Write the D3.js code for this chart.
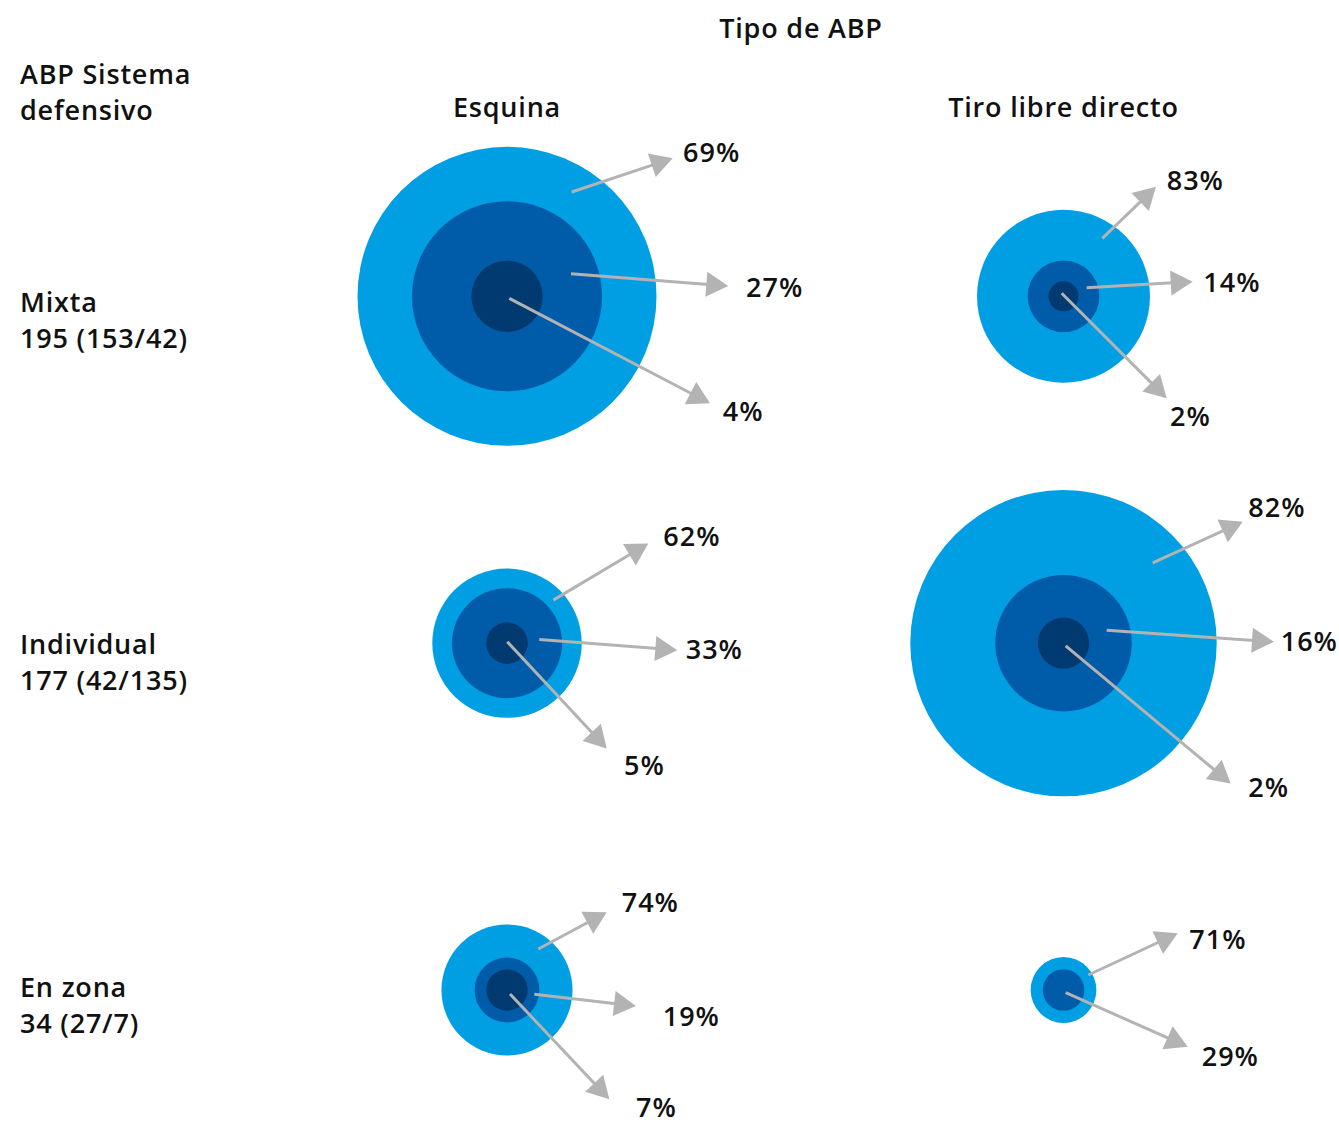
<!DOCTYPE html>
<html>
<head>
<meta charset="utf-8">
<script src="https://cdn.jsdelivr.net/npm/d3@7"></script>
<style>
  html, body { margin: 0; padding: 0; background: #fff; }
  svg text { font-family: "Open Sans", "Noto Sans", sans-serif; font-weight: 600; fill: #111; }
</style>
</head>
<body>
<svg id="chart" width="1339" height="1124"></svg>
<script>
// ---------- data ----------
const title = "Tipo de ABP";
const rowHeader = ["ABP Sistema", "defensivo"];
const rowNames = ["Mixta", "Individual", "En zona"];
const rowCounts = ["195 (153/42)", "177 (42/135)", "34 (27/7)"];
const colNames = ["Esquina", "Tiro libre directo"];

// percentage shares per ring (outer -> inner)
const esquinaShares = [[69, 27, 4], [62, 33, 5], [74, 19, 7]];
const tiroShares = [[83, 14, 2], [82, 16, 2], [71, 29]];

// bubble size values per ring (outer -> inner) (area units)
const esquinaRingSizes = [[153, 61.8, 8.7], [38.2, 20.7, 2.96], [29.4, 7.2, 2.93]];
const tiroRingSizes = [[51.2, 8.8, 1.54], [160.7, 31.9, 4.5], [7.4, 2.96]];

// ---------- layout (annotation offsets relative to bubble centre) ----------
// each: [startDx, startDy, tipDx, tipDy, labelDx, labelDy]
const esquinaArrows = [
  [[64.7, -104.3, 165.7, -138, 176, -134.6], [64, -22.6, 221.3, -10.3, 239, 0.4], [2.3, 2, 203, 107, 215.7, 124.4]],
  [[46.3, -43, 141.3, -99.7, 156.3, -97], [32.3, -3.7, 170.3, 7, 178.7, 16], [0.3, -1.3, 99.7, 105.3, 117, 132]],
  [[31.3, -41, 99.7, -77.7, 114.7, -78.3], [27.3, 4.3, 129, 16, 155.7, 35.7], [3, 4, 102.3, 109.3, 129, 127]]
];
const tiroArrows = [
  [[38.8, -58, 92.5, -109.6, 103.2, -106.3], [23.2, -8.6, 129.2, -14.6, 139.8, -4], [-1.8, -3, 103.2, 102, 106.5, 129.7]],
  [[89.2, -80.3, 179.2, -121.3, 184.8, -125.7], [43.2, -13, 210.5, -1.3, 217.2, 7.7], [2.2, 2.7, 167.2, 140.3, 184.8, 153.7]],
  [[24.8, -15, 114.2, -56.7, 125.8, -40.7], [2.2, 2.7, 124.2, 56.7, 138.2, 76]]
];
const rowLabelOffsets = [15.5, 11, 7.3];

const ringColors = ["#009FE3", "#005CA9", "#003A70"];
const arrowColor = "#B3B3B3";

// ---------- chart ----------
const svg = d3.select("#chart");
const x = d3.scalePoint().domain(colNames).range([507, 1063.5]);
const y = d3.scalePoint().domain(rowNames).range([296.3, 990]);
const r = d3.scaleSqrt().domain([0, 153]).range([0, 149.5]);

const FS = "27px", LS = "0.8px";

svg.append("text").attr("x", 801).attr("y", 37.5).attr("text-anchor", "middle")
  .style("font-size", FS).style("letter-spacing", LS).text(title);

svg.append("text").attr("x", 20).attr("y", 84).style("font-size", FS).style("letter-spacing", LS)
  .selectAll("tspan").data(rowHeader).join("tspan")
  .attr("x", 20).attr("dy", (d, i) => i === 0 ? 0 : 36).text(d => d);

svg.selectAll("text.col").data(colNames).join("text").attr("class", "col")
  .attr("x", d => x(d)).attr("y", 116.5).attr("text-anchor", "middle")
  .style("font-size", FS).style("letter-spacing", LS).text(d => d);

rowNames.forEach((name, i) => {
  const t = svg.append("text").attr("x", 20).attr("y", y(name) + rowLabelOffsets[i])
    .style("font-size", FS).style("letter-spacing", LS);
  t.append("tspan").attr("x", 20).text(name);
  t.append("tspan").attr("x", 20).attr("dy", 36).text(rowCounts[i]);
});

const cells = [];
rowNames.forEach((row, i) => {
  cells.push({ row, col: colNames[0], shares: esquinaShares[i], sizes: esquinaRingSizes[i], arrows: esquinaArrows[i] });
  cells.push({ row, col: colNames[1], shares: tiroShares[i], sizes: tiroRingSizes[i], arrows: tiroArrows[i] });
});

const g = svg.selectAll("g.cell").data(cells).join("g").attr("class", "cell")
  .attr("transform", d => `translate(${x(d.col)},${y(d.row)})`);

g.selectAll("circle").data(d => d.sizes).join("circle")
  .attr("r", d => r(d)).attr("fill", (d, i) => ringColors[i]);

const HEAD_LEN = 22, HEAD_HALF = 12.5;
g.each(function (d) {
  const cg = d3.select(this);
  d.arrows.forEach((a, i) => {
    const [sx, sy, tx, ty, lx, ly] = a;
    const dx = tx - sx, dy = ty - sy, len = Math.hypot(dx, dy);
    const ux = dx / len, uy = dy / len;
    const bx = tx - ux * HEAD_LEN, by = ty - uy * HEAD_LEN;
    cg.append("line").attr("x1", sx).attr("y1", sy).attr("x2", bx + ux * 2).attr("y2", by + uy * 2)
      .attr("stroke", arrowColor).attr("stroke-width", 3);
    cg.append("polygon")
      .attr("points", [[tx, ty], [bx - uy * HEAD_HALF, by + ux * HEAD_HALF], [bx + uy * HEAD_HALF, by - ux * HEAD_HALF]].map(p => p.join(",")).join(" "))
      .attr("fill", arrowColor);
    cg.append("text").attr("x", lx).attr("y", ly).style("font-size", "27px").style("letter-spacing", "1px")
      .text(d.shares[i] + "%");
  });
});
</script>
</body>
</html>
